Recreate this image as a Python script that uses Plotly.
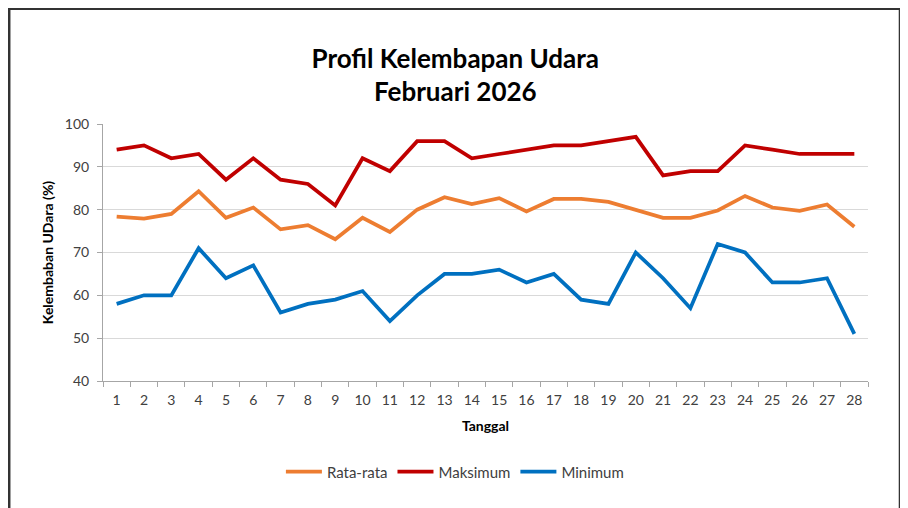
import plotly.graph_objects as go

tanggal = [str(d) for d in range(1, 29)]

rata_rata = [78.4, 77.9, 79.0, 84.3, 78.1, 80.5, 75.4, 76.4, 73.1, 78.1,
             74.8, 80.0, 82.9, 81.3, 82.7, 79.6, 82.5, 82.5, 81.8, 79.9,
             78.1, 78.1, 79.8, 83.2, 80.5, 79.7, 81.2, 76.0]
maksimum = [94, 95, 92, 93, 87, 92, 87, 86, 81, 92,
            89, 96, 96, 92, 93, 94, 95, 95, 96, 97,
            88, 89, 89, 95, 94, 93, 93, 93]
minimum = [58, 60, 60, 71, 64, 67, 56, 58, 59, 61,
           54, 60, 65, 65, 66, 63, 65, 59, 58, 70,
           64, 57, 72, 70, 63, 63, 64, 51]

FONT = "Lato"

fig = go.Figure()
fig.add_trace(go.Scatter(x=tanggal, y=rata_rata, mode="lines", name="Rata-rata",
                         line=dict(color="#ED7D31", width=3.75)))
fig.add_trace(go.Scatter(x=tanggal, y=maksimum, mode="lines", name="Maksimum",
                         line=dict(color="#C00000", width=3.75)))
fig.add_trace(go.Scatter(x=tanggal, y=minimum, mode="lines", name="Minimum",
                         line=dict(color="#0070C0", width=3.75)))

# page body has an 8px margin, so the figure is sized to end at the window edge
fig.update_layout(
    width=900,
    height=500,
    margin=dict(l=95, r=40, t=116, b=127),
    paper_bgcolor="white",
    plot_bgcolor="white",
    font=dict(family=FONT, color="#404040", size=14),
    title=dict(
        text="<b>Profil Kelembapan Udara<br>Februari 2026</b>",
        x=0.497, xanchor="center", xref="container",
        y=0.881, yanchor="middle",
        font=dict(family=FONT, size=26, color="black"),
    ),
    legend=dict(
        orientation="h",
        x=0.46, xanchor="center",
        y=-0.354, yanchor="middle",
        font=dict(family=FONT, size=15, color="#404040"),
        itemwidth=36,
    ),
    shapes=[dict(
        type="rect", xref="paper", yref="paper",
        x0=-0.1226, x1=1.0418, y0=-0.6, y1=1.4483,
        line=dict(color="#333333", width=2.5),
        fillcolor="rgba(0,0,0,0)",
    )],
)

fig.update_xaxes(
    type="category",
    range=[-0.5, len(tanggal) - 0.5],
    title=dict(text="<b>Tanggal</b>", font=dict(size=14, color="black"), standoff=14),
    showline=True, linecolor="#A6A6A6", linewidth=1,
    ticks="outside", tickson="boundaries", ticklen=5, tickcolor="#A6A6A6",
    ticklabelstandoff=6,
    showgrid=False,
)
fig.update_yaxes(
    range=[40, 100], dtick=10,
    title=dict(text="<b>Kelembaban UDara (%)</b>", font=dict(size=14, color="black"), standoff=7),
    showline=True, linecolor="#A6A6A6", linewidth=1,
    ticks="outside", ticklen=5, tickcolor="#A6A6A6",
    ticklabelstandoff=5,
    showgrid=True, gridcolor="#D9D9D9", gridwidth=1,
    zeroline=False,
)

fig.write_html("out.html")
